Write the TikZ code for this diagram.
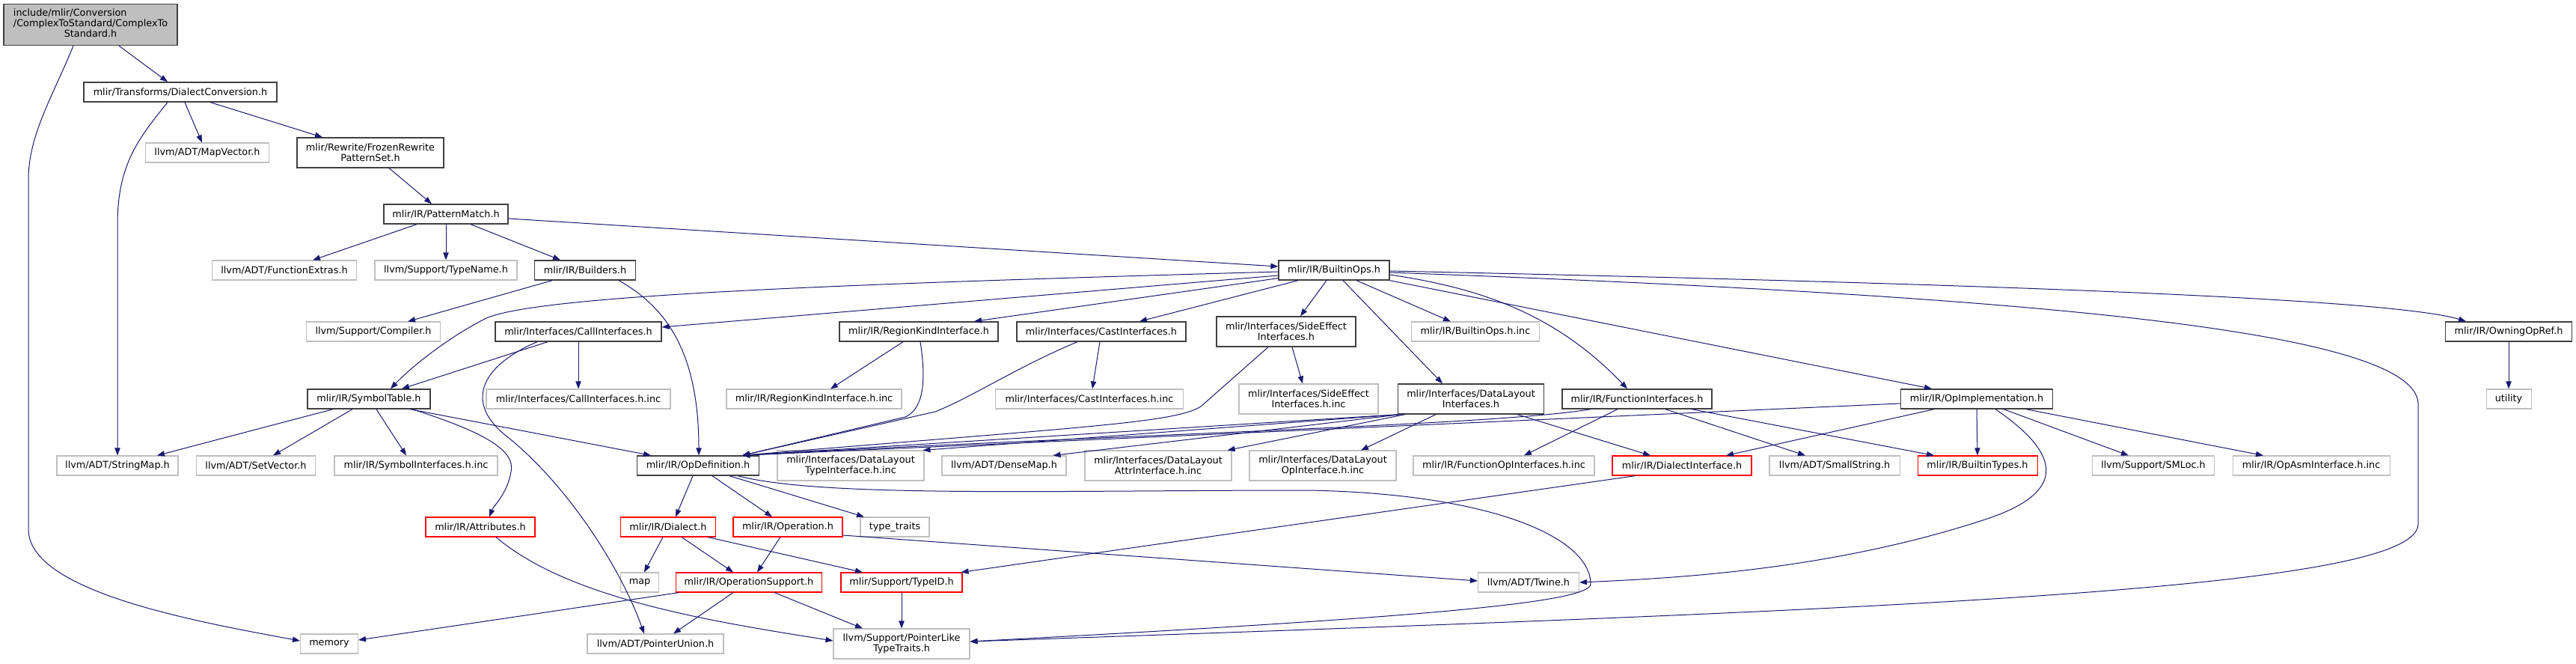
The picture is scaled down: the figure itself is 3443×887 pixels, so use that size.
\documentclass[tikz,border=0pt]{standalone}
\usepackage{fontspec}
\setmainfont{DejaVu Sans}
\usetikzlibrary{arrows.meta,calc}
\definecolor{edgeblue}{HTML}{191970}
\definecolor{boxgray}{HTML}{BFBFBF}
\definecolor{boxdark}{HTML}{404040}
\begin{document}
\begin{tikzpicture}[x=0.75pt,y=-0.75pt,
  box/.style={rectangle,inner sep=0pt,minimum height=19.5pt,align=center,
    font=\fontsize{9.6}{10.4}\selectfont},
  wd/.style={minimum width=#1*0.75pt},
  nh/.style={minimum height=#1*0.75pt},
  bk/.style={box,draw=boxdark,line width=1pt},
  gr/.style={box,draw=boxgray,line width=0.8pt},
  rd/.style={box,draw=red,line width=0.8pt},
  dep/.style={draw=edgeblue,line width=0.75pt,-{Triangle[length=7.5pt,width=5.5pt]}}]
\useasboundingbox (0,0) rectangle (3443,887);

% nodes
\node[bk,wd=232,nh=55,fill=boxgray] (root) at (121,33) {\begin{tabular}{@{}l@{}}include/mlir/Conversion\\/ComplexToStandard/ComplexTo\\\multicolumn{1}{@{}c@{}}{Standard.h}\end{tabular}};
\node[bk,wd=258] (dc) at (241,123) {mlir/Transforms/DialectConversion.h};
\node[gr,wd=165] (mapvec) at (277,204) {llvm/ADT/MapVector.h};
\node[bk,wd=196,nh=40] (frozen) at (495,204) {mlir/Rewrite/FrozenRewrite\\PatternSet.h};
\node[bk,wd=166] (pm) at (596,286) {mlir/IR/PatternMatch.h};
\node[gr,wd=193] (funcext) at (380,361) {llvm/ADT/FunctionExtras.h};
\node[gr,wd=190] (typename) at (596,361) {llvm/Support/TypeName.h};
\node[bk,wd=135] (builders) at (782,361) {mlir/IR/Builders.h};
\node[bk,wd=148] (builtinops) at (1783,361) {mlir/IR/BuiltinOps.h};
\node[gr,wd=179] (compiler) at (499,443) {llvm/Support/Compiler.h};
\node[bk,wd=222] (callif) at (773,443) {mlir/Interfaces/CallInterfaces.h};
\node[bk,wd=212] (regionkind) at (1228,443) {mlir/IR/RegionKindInterface.h};
\node[bk,wd=226] (castif) at (1472,443) {mlir/Interfaces/CastInterfaces.h};
\node[bk,wd=186,nh=40] (sideeff) at (1719,443) {mlir/Interfaces/SideEffect\\Interfaces.h};
\node[gr,wd=171] (builtinopsinc) at (1972,443) {mlir/IR/BuiltinOps.h.inc};
\node[bk,wd=169] (owning) at (3353,443) {mlir/IR/OwningOpRef.h};
\node[bk,wd=164] (symtab) at (493,533) {mlir/IR/SymbolTable.h};
\node[gr,wd=246] (callinc) at (773,533) {mlir/Interfaces/CallInterfaces.h.inc};
\node[gr,wd=234] (regioninc) at (1088,533) {mlir/IR/RegionKindInterface.h.inc};
\node[gr,wd=251] (castinc) at (1456,533) {mlir/Interfaces/CastInterfaces.h.inc};
\node[gr,wd=186,nh=40] (sideinc) at (1749,533) {mlir/Interfaces/SideEffect\\Interfaces.h.inc};
\node[bk,wd=195,nh=40] (dlif) at (1966,533) {mlir/Interfaces/DataLayout\\Interfaces.h};
\node[bk,wd=200] (funcif) at (2188,533) {mlir/IR/FunctionInterfaces.h};
\node[bk,wd=203] (opimpl) at (2642,533) {mlir/IR/OpImplementation.h};
\node[gr,wd=60] (utility) at (3353,533) {utility};
\node[gr,wd=162] (stringmap) at (157,622) {llvm/ADT/StringMap.h};
\node[gr,wd=159] (setvec) at (342,622) {llvm/ADT/SetVector.h};
\node[gr,wd=218] (syminc) at (556,622) {mlir/IR/SymbolInterfaces.h.inc};
\node[bk,wd=163] (opdef) at (933,622) {mlir/IR/OpDefinition.h};
\node[gr,wd=196,nh=40] (dltype) at (1137,622) {mlir/Interfaces/DataLayout\\TypeInterface.h.inc};
\node[gr,wd=166] (densemap) at (1342,622) {llvm/ADT/DenseMap.h};
\node[gr,wd=196,nh=40] (dlattr) at (1548,622) {mlir/Interfaces/DataLayout\\AttrInterface.h.inc};
\node[gr,wd=196,nh=40] (dlop) at (1768,622) {mlir/Interfaces/DataLayout\\OpInterface.h.inc};
\node[gr,wd=242] (funcopinc) at (2010,622) {mlir/IR/FunctionOpInterfaces.h.inc};
\node[rd,wd=186] (dialectif) at (2248,622) {mlir/IR/DialectInterface.h};
\node[gr,wd=174] (smallstr) at (2452,622) {llvm/ADT/SmallString.h};
\node[rd,wd=160] (builtintypes) at (2643,622) {mlir/IR/BuiltinTypes.h};
\node[gr,wd=163] (smloc) at (2878,622) {llvm/Support/SMLoc.h};
\node[gr,wd=210] (opasm) at (3089,622) {mlir/IR/OpAsmInterface.h.inc};
\node[rd,wd=146] (attributes) at (642,704) {mlir/IR/Attributes.h};
\node[rd,wd=127] (dialect) at (893,704) {mlir/IR/Dialect.h};
\node[rd,wd=146] (operation) at (1053,704) {mlir/IR/Operation.h};
\node[gr,wd=92] (typetraits) at (1196,704) {type\_traits};
\node[gr,wd=51] (map) at (855,778) {map};
\node[rd,wd=195] (opsupport) at (1001,778) {mlir/IR/OperationSupport.h};
\node[rd,wd=162] (typeid) at (1205,778) {mlir/Support/TypeID.h};
\node[gr,wd=135] (twine) at (2043,778) {llvm/ADT/Twine.h};
\node[gr,wd=77] (memory) at (440,860) {memory};
\node[gr,wd=182] (ptrunion) at (876,860) {llvm/ADT/PointerUnion.h};
\node[gr,wd=182,nh=40] (ptrlike) at (1205,860) {llvm/Support/PointerLike\\TypeTraits.h};

% edges
\draw[dep] ($(root.south)+(38,0)$) -- ($(dc.north)+(-17,0)$);
\draw[dep] ($(root.south)+(-23,0)$) .. controls (70,130) and (38,180) .. (38,240) -- (38,707) .. controls (38,790) and (260,830) .. ($(memory.west)+(0,-4)$);
\draw[dep] ($(dc.south)+(-17,0)$) .. controls (185,185) and (157,220) .. (157,300) -- (stringmap.north);
\draw[dep] ($(dc.south)+(6,0)$) -- ($(mapvec.north)+(-7,0)$);
\draw[dep] ($(dc.south)+(40,0)$) -- ($(frozen.north)+(-64,0)$);
\draw[dep] ($(frozen.south)+(25,0)$) -- ($(pm.north)+(-19,0)$);
\draw[dep] ($(pm.south)+(-39,0)$) -- ($(funcext.north)+(38,0)$);
\draw[dep] (pm.south) -- (typename.north);
\draw[dep] ($(pm.south)+(33,0)$) -- ($(builders.north)+(-33,0)$);
\draw[dep] ($(pm.east)+(0,6)$) -- ($(builtinops.west)+(0,-5)$);
\draw[dep] ($(builders.south)+(-44,0)$) -- ($(compiler.north)+(46,0)$);
\draw[dep] ($(builders.south)+(45,0)$) .. controls (890,410) and (934,470) .. ($(opdef.north)+(1,0)$);

\draw[dep] ($(builtinops.west)+(0,7)$) -- ($(callif.east)+(0,-6)$);
\draw[dep] ($(builtinops.west)+(0,2)$) .. controls (1100,380) and (720,395) .. (650,425) .. controls (600,450) and (550,490) .. ($(symtab.north)+(29,0)$);
\draw[dep] ($(builtinops.south west)+(0,-3)$) -- ($(regionkind.north)+(74,0)$);
\draw[dep] ($(builtinops.south)+(-48,0)$) -- ($(castif.north)+(51,0)$);
\draw[dep] ($(builtinops.south)+(-10,0)$) -- ($(sideeff.north)+(19,0)$);
\draw[dep] ($(builtinops.south)+(12,0)$) -- ($(dlif.north)+(-38,0)$);
\draw[dep] ($(builtinops.south)+(30,0)$) -- ($(builtinopsinc.north)+(-33,0)$);
\draw[dep] ($(builtinops.east)+(0,6)$) .. controls (1980,385) and (2080,420) .. ($(funcif.north)+(-13,0)$);
\draw[dep] (builtinops.south east) -- ($(opimpl.north)+(-60,0)$);
\draw[dep] ($(builtinops.east)+(0,1)$) .. controls (2700,380) and (3200,400) .. ($(owning.north)+(-57,0)$);
\draw[dep] ($(builtinops.east)+(0,3)$) .. controls (2700,395) and (3232,440) .. (3232,540) -- (3232,700) .. controls (3232,790) and (2500,815) .. ($(ptrlike.east)+(0,-3)$);

\draw[dep] ($(callif.south)+(-41,0)$) -- ($(symtab.north)+(44,0)$);
\draw[dep] (callif.south) -- (callinc.north);
\draw[dep] ($(callif.south)+(-55,0)$) .. controls (640,490) and (620,540) .. (680,585) .. controls (760,650) and (830,760) .. ($(ptrunion.north)+(-15,0)$);

\draw[dep] ($(symtab.south)+(-48,0)$) -- ($(stringmap.north)+(53,0)$);
\draw[dep] ($(symtab.south)+(-22,0)$) -- ($(setvec.north)+(23,0)$);
\draw[dep] ($(symtab.south)+(10,0)$) -- ($(syminc.north)+(-13,0)$);
\draw[dep] ($(symtab.south)+(55,0)$) -- ($(opdef.north)+(-63,0)$);
\draw[dep] ($(symtab.south)+(58,0)$) .. controls (640,575) and (690,600) .. (683,630) .. controls (678,660) and (660,675) .. ($(attributes.north)+(12,0)$);

\draw[dep] ($(regionkind.south)+(-21,0)$) -- ($(regioninc.north)+(22,0)$);
\draw[dep] ($(regionkind.south)+(2,0)$) .. controls (1240,520) and (1230,548) .. (1210,557) -- ($(opdef.north east)+(-23,0)$);
\draw[dep] ($(castif.south)+(-2,0)$) -- ($(castinc.north)+(4,0)$);
\draw[dep] ($(castif.south)+(-32,0)$) .. controls (1360,490) and (1300,530) .. (1250,550) -- ($(opdef.north east)+(-23,0)$);
\draw[dep] ($(sideeff.south)+(8,0)$) -- ($(sideinc.north)+(-8,0)$);
\draw[dep] ($(sideeff.south)+(-24,0)$) -- (1605,543) .. controls (1570,565) and (1450,570) .. ($(opdef.north east)+(-23,0)$);

\draw[dep] ($(dlif.south west)+(2,0)$) -- ($(opdef.north east)+(-23,0)$);
\draw[dep] ($(dlif.south west)+(2,0)$) -- ($(dltype.north east)+(-2,0)$);
\draw[dep] ($(dlif.south west)+(4,0)$) -- ($(densemap.north east)+(-18,0)$);
\draw[dep] ($(dlif.south west)+(10,0)$) -- ($(dlattr.north east)+(-6,0)$);
\draw[dep] ($(dlif.south)+(-47,0)$) -- ($(dlop.north)+(51,0)$);
\draw[dep] ($(dlif.south)+(62,0)$) -- ($(dialectif.north)+(-42,0)$);

\draw[dep] ($(funcif.south)+(-62,0)$) .. controls (2000,568) and (1500,580) .. ($(opdef.north east)+(-23,0)$);
\draw[dep] ($(funcif.south)+(-26,0)$) -- ($(funcopinc.north)+(27,0)$);
\draw[dep] ($(funcif.south)+(38,0)$) -- ($(smallstr.north)+(-39,0)$);
\draw[dep] ($(funcif.south)+(73,0)$) -- ($(builtintypes.north)+(-58,0)$);

\draw[dep] ($(opimpl.west)+(0,6)$) -- ($(opdef.north east)+(-23,0)$);
\draw[dep] ($(opimpl.south)+(-57,0)$) -- ($(dialectif.north)+(59,0)$);
\draw[dep] (opimpl.south) -- (builtintypes.north);
\draw[dep] ($(opimpl.south)+(36,0)$) -- ($(smloc.north)+(-33,0)$);
\draw[dep] ($(opimpl.south)+(66,0)$) -- ($(opasm.north)+(-64,0)$);
\draw[dep] ($(opimpl.south)+(25,0)$) .. controls (2760,610) and (2760,660) .. (2650,695) .. controls (2450,760) and (2250,772) .. (twine.east);
\draw[dep] (owning.south) -- (utility.north);

\draw[dep] ($(opdef.south)+(-7,0)$) -- ($(dialect.north)+(10,0)$);
\draw[dep] ($(opdef.south)+(19,0)$) -- ($(operation.north)+(-21,0)$);
\draw[dep] ($(opdef.south)+(42,0)$) -- ($(typetraits.north)+(-41,0)$);
\draw[dep] ($(opdef.south east)+(-29,0)$) .. controls (1100,665) and (1400,655) .. (1750,655) .. controls (2000,660) and (2126,720) .. (2126,780) .. controls (2126,805) and (1900,825) .. ($(ptrlike.east)+(0,-3)$);

\draw[dep] ($(dialect.south)+(-7,0)$) -- ($(map.north)+(6,0)$);
\draw[dep] ($(dialect.south)+(18,0)$) -- ($(opsupport.north)+(-21,0)$);
\draw[dep] ($(dialect.south)+(53,0)$) -- ($(typeid.north)+(-52,0)$);
\draw[dep] ($(operation.south)+(-10,0)$) -- ($(opsupport.north)+(11,0)$);
\draw[dep] ($(operation.east)+(0,11)$) -- ($(twine.west)+(0,-2)$);
\draw[dep] ($(opsupport.south west)+(5,0)$) -- ($(memory.east)+(0,-5)$);
\draw[dep] ($(opsupport.south)+(-21,0)$) -- ($(ptrunion.north)+(24,0)$);
\draw[dep] ($(opsupport.south)+(34,0)$) -- ($(ptrlike.north)+(-52,0)$);
\draw[dep] (typeid.south) -- (ptrlike.north);
\draw[dep] ($(attributes.south)+(21,0)$) .. controls (760,800) and (950,830) .. ($(ptrlike.west)+(0,-4)$);
\draw[dep] ($(dialectif.south)+(-62,0)$) -- ($(typeid.north east)+(-2,0)$);
\end{tikzpicture}
\end{document}
